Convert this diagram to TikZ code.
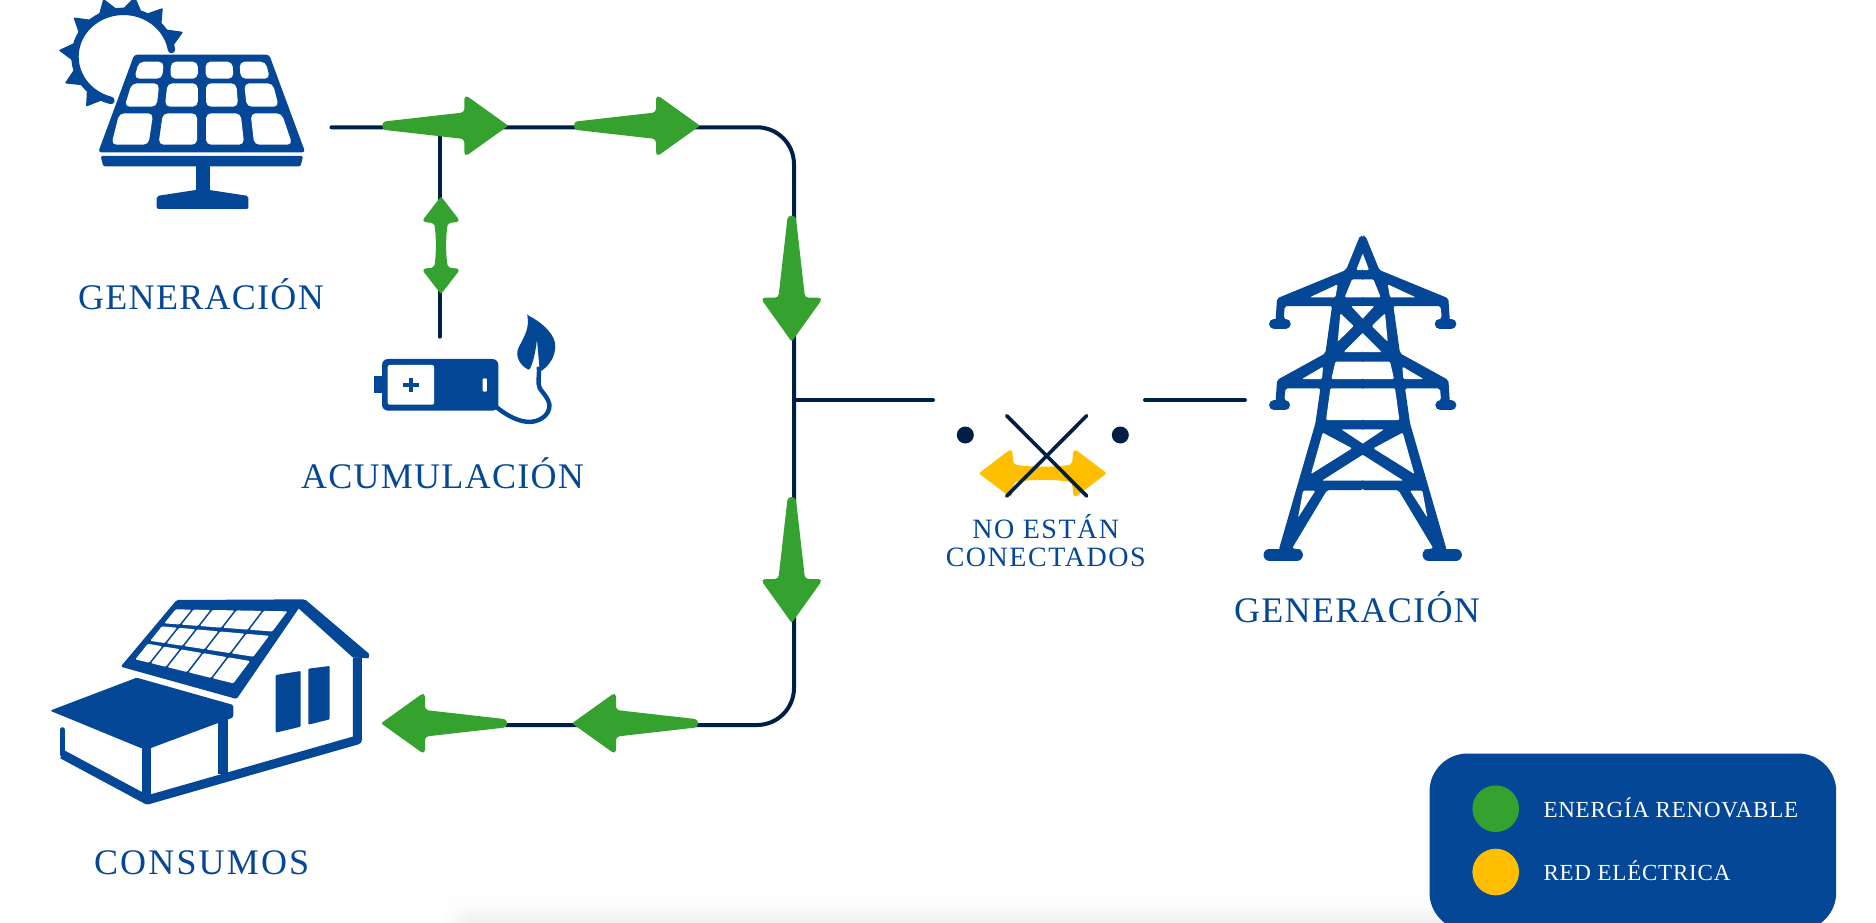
\documentclass[tikz,border=0pt]{standalone}
\usepackage{fontspec}
\usetikzlibrary{fadings}
\setmainfont{Liberation Serif}
\definecolor{brandblue}{HTML}{034796}
\definecolor{wirenavy}{HTML}{001F47}
\definecolor{renewgreen}{HTML}{35A22F}
\definecolor{gridyellow}{HTML}{FFBE00}

\tikzfading[name=edgefade, left color=transparent!0, right color=transparent!100]

\tikzset{
  wire/.style={draw=wirenavy, line width=4pt, line cap=round},
  biglabel/.style={anchor=base, text=brandblue, inner sep=0pt,
    font=\fontsize{36}{36}\selectfont\addfontfeature{LetterSpace=3.6}},
  legendlabel/.style={anchor=base west, text=white, inner sep=0pt,
    font=\fontsize{23}{23}\selectfont\addfontfeature{LetterSpace=3.4}},
  legenddot/.style={circle, minimum size=46.6pt, inner sep=0pt},
  plugdot/.style={circle, fill=wirenavy, minimum size=17pt, inner sep=0pt},
  flowarrow/.pic={
    \fill[renewgreen, rounded corners=3.5pt] (-125,-4) -- (-43,-13.3) [rounded corners=5pt] -- (-43,-31.5)
      [rounded corners=2pt] -- (1,0) [rounded corners=5pt] -- (-43,31.5)
      [rounded corners=3.5pt] -- (-43,13.3) -- (-125,4) -- cycle;
  },
  twoway/.pic={
    \fill[pic actions, rounded corners=4pt] (-64,0) [rounded corners=4pt] -- (-31,-25) [rounded corners=2pt] -- (-29,-9)
      .. controls (-15,-6) and (15,-6) .. (29,-9) [rounded corners=4pt] -- (31,-25) [rounded corners=2pt] -- (64,0)
      [rounded corners=4pt] -- (31,25) [rounded corners=2pt] -- (29,9) .. controls (15,6) and (-15,6) .. (-29,9)
      [rounded corners=4pt] -- (-31,25) [rounded corners=2pt] -- cycle;
  },
  towerhalf/.pic={
    \fill[brandblue, rounded corners=2pt] (-0.5,47) -- (8,47) -- (50,150) -- (257,235) -- (262,310)
      -- (217,310) -- (237,295) -- (234,258)
      -- (92,258) -- (112,400) -- (257,480) -- (262,555)
      -- (217,555) -- (235,540) -- (232,505) -- (127,505) -- (142,610)
      -- (252,990) -- (179,990) -- (212,985)
      -- (107,810) -- (-0.5,810) -- cycle;
    \draw[brandblue, line width=10pt, line cap=round] (231,311) -- (266,311);
    \draw[brandblue, line width=10pt, line cap=round] (233,556) -- (266,556);
    \draw[brandblue, line width=11.7pt, line cap=round] (197,1004) -- (280,1004);
    \foreach \hole in {
      {(-1.5,103) -- (1,103) -- (19,150) -- (-1.5,150)},
      {(-1.5,178) -- (32,178) -- (54,232) -- (-1.5,232)},
      {(75,193) -- (159,232) -- (82,232)},
      {(-1.5,258) -- (35,258) -- (1,295) -- (-1.5,295)},
      {(67,280) -- (75,365) -- (27,318)},
      {(-1.5,340) -- (1,340) -- (57,396) -- (-1.5,396)},
      {(119,440) -- (182,477) -- (122,477)},
      {(-1.5,425) -- (82,425) -- (94,477) -- (-1.5,477)},
      {(-1.5,505) -- (97,505) -- (110,600) -- (-1.5,600)},
      {(-1.5,628) -- (64,628) -- (1,670) -- (-1.5,670)},
      {(120,638) -- (155,762) -- (32,685)},
      {(-1.5,705) -- (1,705) -- (122,782) -- (-1.5,782)},
      {(142,812) -- (179,812) -- (194,893)}}
      \fill[white, rounded corners=1.2pt] \hole -- cycle;
  }
}

\begin{document}
\begin{tikzpicture}[x=1pt, y=-1pt,
  declare function={
    hx(\s,\t)=(1-\t)*((1-\s)*437+\s*772)+\t*((1-\s)*316+\s*610);
    hy(\s,\t)=(1-\t)*((1-\s)*118+\s*124)+\t*((1-\s)*268+\s*340);
  }]
  \useasboundingbox (0,0) rectangle (1876,923);

  % soft shadow along the bottom edge
  \shade[top color=white, bottom color=black!6, middle color=black!1.5] (442,888) rectangle (1445,923);
  \fill[white, path fading=edgefade] (441,887) rectangle (470,923);

  % wire ends
  \coordinate (genout) at (331.5,127.3);
  \coordinate (tee) at (439.7,127.3);
  \coordinate (batin) at (439.7,336.7);
  \coordinate (cornertop) at (794,127.3);
  \coordinate (cornerbot) at (794,725);
  \coordinate (loadin) at (505,725);
  \coordinate (junction) at (794,400);
  \coordinate (gapleft) at (933,400);
  \coordinate (gapright) at (1145,400);
  \coordinate (towerin) at (1245,400);

  \draw[wire, rounded corners=37pt] (genout) -- (cornertop) -- (cornerbot) -- (loadin);
  \draw[wire] (tee) -- (batin);
  \draw[wire] (junction) -- (gapleft);
  \draw[wire] (gapright) -- (towerin);

  % flow arrows
  \pic at (507.3,125.7) {flowarrow};
  \pic at (699,125.7) {flowarrow};
  \pic[rotate=-90] at (791.7,340.7) {flowarrow};
  \pic[rotate=-90] at (791.7,622) {flowarrow};
  \pic[rotate=180] at (382,723.3) {flowarrow};
  \pic[rotate=180] at (573,723.3) {flowarrow};
  \pic[rotate=90, xscale=0.764, yscale=0.78, fill=renewgreen] at (441,245.3) {twoway};

  % open switch
  \pic[fill=gridyellow] at (1042.8,473.3) {twoway};
  \node[plugdot] (plugleft) at (965.3,435) {};
  \node[plugdot] (plugright) at (1120.3,435) {};
  \coordinate (crossa) at (1006.7,415.7);
  \coordinate (crossb) at (1086.7,496);
  \coordinate (crossc) at (1086.7,415.7);
  \coordinate (crossd) at (1006.7,496);
  \draw[wire, line width=3.6pt] (crossa) -- (crossb);
  \draw[wire, line width=3.6pt] (crossc) -- (crossd);

  % solar panel
  \begin{scope}[shift={(30,0)}, xscale=0.357, yscale=1/3]
    \draw[brandblue, line width=7.4pt, line cap=round, variable=\x, domain=-255:-9, samples=40]
      plot ({262+136*cos(\x)},{170+136*sin(\x)});
    \foreach \a in {-24,-53,-80,-108,-140,-174,-206,-235}
      \fill[brandblue, rounded corners=1pt] ({262+140*cos(\a-12)},{170+140*sin(\a-12)})
        -- ({262+183*cos(\a)},{170+183*sin(\a)})
        -- ({262+140*cos(\a+12)},{170+140*sin(\a+12)}) -- cycle;
    \fill[brandblue, rounded corners=3pt] (292,164) -- (670,164) -- (771,457) -- (191,457) -- cycle;
    \foreach \ta/\tb/\tc/\td/\ya/\yb in {
      305/375/370/292/185/236, 395/470/470/393/185/236, 492/567/570/492/185/236, 587/660/672/590/185/236,
      285/362/355/265/250/320, 385/470/470/378/250/320, 493/578/583/493/250/320, 600/680/697/607/250/320,
      250/345/332/228/340/434, 372/468/468/360/340/434, 493/590/600/493/340/434, 618/705/735/628/340/434}
      \fill[white, rounded corners=5pt] (\ta,\ya) -- (\tb,\ya) -- (\tc,\yb) -- (\td,\yb) -- cycle;
    \fill[brandblue, rounded corners=1.5pt] (198,468) -- (765,468) -- (758,499) -- (205,499) -- cycle;
    \fill[brandblue] (464,495) rectangle (503,575);
    \fill[brandblue, rounded corners=2pt] (464,570) -- (355,588) -- (355,627) -- (612,627) -- (612,588) -- (503,570) -- cycle;
  \end{scope}
  \node[biglabel] (genlabel) at (201,309.3) {GENERACIÓN};

  % battery with leaf
  \begin{scope}[shift={(30,0)}, xscale=0.357, yscale=1/3]
    \fill[brandblue] (964,1128) rectangle (990,1180);
    \fill[brandblue, rounded corners=6pt] (986,1077) rectangle (1312,1232);
    \fill[white, rounded corners=2pt] (1002,1095) rectangle (1132,1214);
    \draw[brandblue, line width=4pt] (1045,1155) -- (1089,1155) (1067,1133) -- (1067,1177);
    \fill[white, rounded corners=1pt] (1268,1135) rectangle (1280,1175);
    \draw[brandblue, line width=4.4pt] (1305,1220) .. controls (1345,1255) and (1400,1285) .. (1440,1250)
      .. controls (1475,1215) and (1440,1185) .. (1428,1165) .. controls (1420,1145) and (1428,1130) .. (1425,1100);
    \fill[brandblue, rounded corners=1pt] (1393,945) .. controls (1440,970) and (1475,1010) .. (1471,1045)
      .. controls (1468,1080) and (1445,1105) .. (1428,1115) -- (1420,1018)
      .. controls (1416,1060) and (1407,1095) .. (1398,1110)
      .. controls (1370,1095) and (1358,1065) .. (1370,1040)
      .. controls (1390,1000) and (1398,980) .. (1393,945) -- cycle;
  \end{scope}
  \node[biglabel] (storelabel) at (442.5,488.3) {ACUMULACIÓN};

  % house
  \begin{scope}[shift={(30,570)}, scale=1/3]
    \fill[brandblue, rounded corners=1.5pt] (440,90) -- (825,88) -- (620,387) -- (272,290) -- cycle;
    \foreach \sa/\sb in {0/0.14,0.16/0.31,0.33/0.525,0.545/0.77,0.79/1}
      \foreach \ta/\tb in {0/0.28,0.34/0.63,0.69/1}
        \fill[white, rounded corners=1pt] ({hx(\sa,\ta)},{hy(\sa,\ta)}) -- ({hx(\sb,\ta)},{hy(\sb,\ta)})
          -- ({hx(\sb,\tb)},{hy(\sb,\tb)}) -- ({hx(\sa,\tb)},{hy(\sa,\tb)}) -- cycle;
    \fill[brandblue, rounded corners=1pt] (825,88) -- (1018,252) -- (1016,265) -- (968,262) -- (820,128) -- (800,110) -- cycle;
    \draw[brandblue, line width=9pt, line join=round] (982,262) -- (982,510) -- (352,690) -- (97,553);
    \draw[brandblue, line width=5.6pt, line cap=round, line join=round] (97,553) -- (97,480);
    \fill[brandblue, rounded corners=1.5pt] (320,323) -- (610,405) -- (610,442) -- (360,535) -- (335,535) -- (60,422) -- cycle;
    \fill[brandblue] (335,530) rectangle (362,695);
    \fill[brandblue] (565,447) rectangle (593,612);
    \fill[brandblue, rounded corners=1pt] (737,315) -- (812,303) -- (812,470) -- (737,488) -- cycle;
    \fill[brandblue, rounded corners=1pt] (835,296) -- (899,288) -- (899,448) -- (835,464) -- cycle;
  \end{scope}
  \node[biglabel, font=\fontsize{36}{36}\selectfont\addfontfeature{LetterSpace=6}] (loadlabel) at (201.7,874) {CONSUMOS};

  % tower
  \pic[scale=1/3] at (1362.7,220) {towerhalf};
  \pic[xscale=-1/3, yscale=1/3] at (1362.7,220) {towerhalf};
  \node[biglabel] (gridlabel) at (1357,622.7) {GENERACIÓN};

  \node[anchor=center, align=center, text=brandblue, inner sep=0pt,
    font=\fontsize{28}{28}\selectfont\addfontfeature{LetterSpace=5.5}] (switchlabel) at (1045.7,541) {NO ESTÁN\\CONECTADOS};

  % legend
  \node[fill=brandblue, rounded corners=38pt, minimum width=406.7pt, minimum height=177pt, inner sep=0pt, anchor=north west] (legend) at (1429.3,753.3) {};
  \node[legenddot, fill=renewgreen] (dotgreen) at (1495.7,808.7) {};
  \node[legenddot, fill=gridyellow] (dotyellow) at (1495.7,872) {};
  \node[legendlabel] (labelgreen) at (1543.3,817.3) {ENERGÍA RENOVABLE};
  \node[legendlabel] (labelyellow) at (1543.3,880.3) {RED ELÉCTRICA};
\end{tikzpicture}
\end{document}
